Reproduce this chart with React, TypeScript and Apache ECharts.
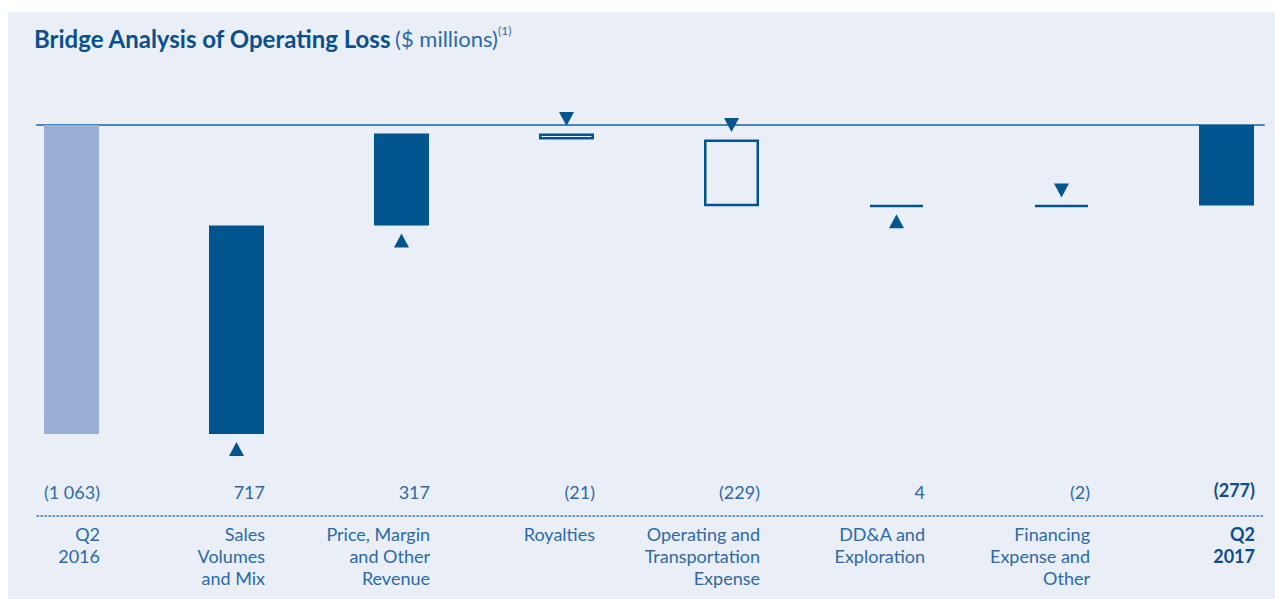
import React, { useEffect, useRef } from "react";
import * as echarts from "echarts";

// ---- data ----
const categories = [
  "Q2\n2016",
  "Sales\nVolumes\nand Mix",
  "Price, Margin\nand Other\nRevenue",
  "Royalties",
  "Operating and\nTransportation\nExpense",
  "DD&A and\nExploration",
  "Financing\nExpense and\nOther",
  "Q2\n2017",
];
const changes = [-1063, 717, 317, -21, -229, 4, -2, -277];
const kinds = ["total", "step", "step", "step", "step", "step", "step", "total"];
const valueLabels = ["(1 063)", "717", "317", "(21)", "(229)", "4", "(2)", "(277)"];

// ---- styles ----
const FONT = "Lato, 'Liberation Sans', sans-serif";
const DARK = "#00558f";
const LIGHT = "#9aafd3";
const TEXT = "#2c6aa8";
const BOLD = "#0b4e8c";
const BG = "#eaeff7";

const BAND = 165;
const FIRST = 63.5; // px centre of first bar inside the chart box
const CHART_W = 1267;
const X_MIN = (29 - FIRST) / BAND;
const X_MAX = (1256 - FIRST) / BAND;
const SHIFT = 28.5 / BAND; // half bar width in axis units (labels right-aligned to bar edge)
const Y_MIN = -1345;
const Y_MAX = 200;
const GRID_TOP = 54.9;
const GRID_BOTTOM = 83;

export default function App() {
  const ref = useRef<HTMLDivElement>(null);
  useEffect(() => {
    const chart = echarts.init(ref.current!, undefined, { renderer: "svg" });
    const last = categories.length - 1;

    let run = 0;
    const helper: number[] = [];
    const visible: any[] = [];
    const upMarks: any[] = [];
    const downMarks: any[] = [];
    changes.forEach((v, i) => {
      let lo: number, hi: number;
      let style: any;
      if (kinds[i] === "total") {
        lo = Math.min(0, v);
        hi = Math.max(0, v);
        run = v;
        const c = i === 0 ? LIGHT : DARK;
        style = { color: c, borderColor: c, borderWidth: 2 };
      } else {
        const next = run + v;
        lo = Math.min(run, next);
        hi = Math.max(run, next);
        run = next;
        if (v > 0) {
          upMarks.push([i, lo]);
          style = { color: DARK, borderColor: DARK, borderWidth: 2.5 };
        } else {
          downMarks.push([i, hi]);
          style = { color: "transparent", borderColor: DARK, borderWidth: 2.5 };
        }
      }
      helper.push(hi);
      visible.push({ value: lo - hi, itemStyle: style });
    });

    const idx = categories.map((_, i) => i);
    const richBold = {
      b: { fontFamily: FONT, fontSize: 18, fontWeight: "bold", color: BOLD, lineHeight: 22, align: "right" },
    };

    chart.setOption({
      animation: false,
      backgroundColor: BG,
      graphic: [
        {
          type: "text",
          left: 26,
          top: 12,
          style: {
            text: "{t|Bridge Analysis of Operating Loss} {u|($ millions)}{s|(1)}",
            rich: {
              t: { fontFamily: FONT, fontSize: 24, fontWeight: "bold", fill: "#0a4f8e", color: "#0a4f8e", lineHeight: 28 },
              u: { fontFamily: FONT, fontSize: 22, fill: "#2c6aa8", color: "#2c6aa8", lineHeight: 28 },
              s: { fontFamily: FONT, fontSize: 12, fill: "#2c6aa8", color: "#2c6aa8", verticalAlign: "top", lineHeight: 14 },
            },
          },
        },
      ],
      grid: [
        { left: 29, right: 11, top: GRID_TOP, bottom: GRID_BOTTOM, containLabel: false },
        {
          left: FIRST,
          right: CHART_W - FIRST - BAND * (categories.length - 1),
          top: GRID_TOP,
          bottom: GRID_BOTTOM,
          containLabel: false,
        },
      ],
      xAxis: [
        {
          type: "value",
          gridIndex: 0,
          min: X_MIN,
          max: X_MAX,
          position: "bottom",
          axisLine: { show: true, onZero: true, lineStyle: { color: "#4a86b8", width: 2 } },
          axisTick: { show: false },
          axisLabel: { show: false },
          splitLine: { show: false },
        },
        {
          type: "value",
          gridIndex: 0,
          min: X_MIN - SHIFT,
          max: X_MAX - SHIFT,
          position: "bottom",
          axisLine: { show: false, onZero: false },
          axisTick: { show: false },
          splitLine: { show: false },
          axisLabel: {
            show: true,
            inside: true,
            margin: 15,
            align: "right",
            customValues: idx,
            color: TEXT,
            fontFamily: FONT,
            fontSize: 18,
            formatter: (v: number) => {
              const i = Math.round(v);
              return i === last ? `{b|${valueLabels[i]}}` : valueLabels[i];
            },
            rich: richBold,
          },
        },
        {
          type: "value",
          gridIndex: 0,
          min: X_MIN - SHIFT,
          max: X_MAX - SHIFT,
          position: "bottom",
          axisLine: { show: true, onZero: false, lineStyle: { color: "#3b73ad", width: 1.5, type: [1.5, 2.5] } },
          axisTick: { show: false },
          splitLine: { show: false },
          axisLabel: {
            show: true,
            margin: 7,
            align: "right",
            customValues: idx,
            color: TEXT,
            fontFamily: FONT,
            fontSize: 18,
            lineHeight: 22,
            formatter: (v: number) => {
              const i = Math.round(v);
              if (i === last) return categories[i].split("\n").map((s) => `{b|${s}}`).join("\n");
              return categories[i];
            },
            rich: richBold,
          },
        },
        {
          type: "category",
          gridIndex: 1,
          boundaryGap: false,
          data: categories,
          show: false,
        },
      ],
      yAxis: [
        { type: "value", gridIndex: 0, min: Y_MIN, max: Y_MAX, show: false, splitLine: { show: false } },
        { type: "value", gridIndex: 1, min: Y_MIN, max: Y_MAX, show: false, splitLine: { show: false } },
      ],
      series: [
        {
          type: "bar",
          xAxisIndex: 3,
          yAxisIndex: 1,
          stack: "w",
          barWidth: 55,
          silent: true,
          clip: false,
          itemStyle: { color: "transparent" },
          data: helper,
        },
        {
          type: "bar",
          xAxisIndex: 3,
          yAxisIndex: 1,
          stack: "w",
          barWidth: 55,
          barMinHeight: 2,
          clip: false,
          data: visible,
        },
        {
          type: "scatter",
          xAxisIndex: 3,
          yAxisIndex: 1,
          symbol: "triangle",
          symbolSize: [15, 14],
          symbolOffset: [0, 15],
          itemStyle: { color: DARK, opacity: 1 },
          clip: false,
          data: upMarks,
        },
        {
          type: "scatter",
          xAxisIndex: 3,
          yAxisIndex: 1,
          symbol: "triangle",
          symbolSize: [15, 14],
          symbolRotate: 180,
          symbolOffset: [0, -14.5],
          itemStyle: { color: DARK, opacity: 1 },
          clip: false,
          data: downMarks,
        },
      ],
    });
    return () => chart.dispose();
  }, []);

  return (
    <div style={{ position: "fixed", left: 0, top: 0, width: 1275, height: 599, background: "#fff" }}>
      <div
        ref={ref}
        style={{ position: "absolute", left: 8, top: 12, width: CHART_W, height: 587, background: BG }}
      />
    </div>
  );
}
